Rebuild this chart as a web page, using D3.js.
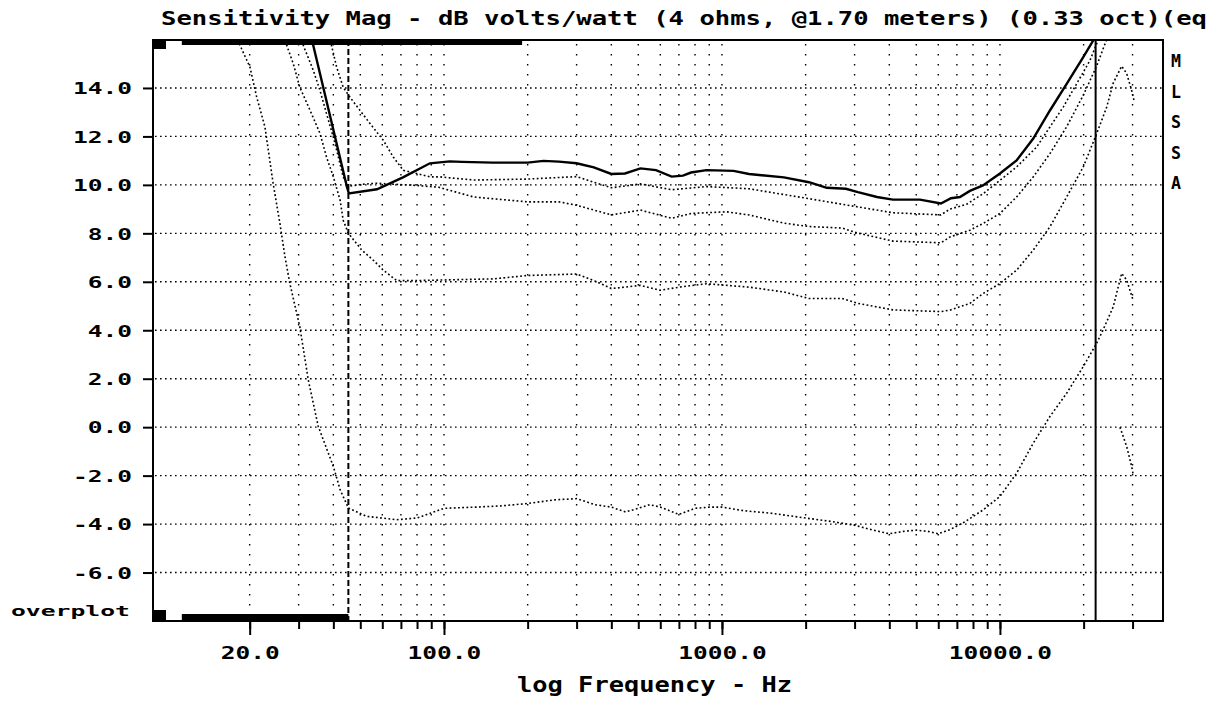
<!DOCTYPE html>
<html>
<head>
<meta charset="utf-8">
<script src="https://cdn.jsdelivr.net/npm/d3@7"></script>
<style>
  body { margin: 0; background: #fff; }
  svg { display: block; }
</style>
</head>
<body>
<svg id="chart"></svg>
<script>
// curves: [frequency Hz, level dB]
const curveM = [[33.0,16.3],[44.8,9.9],[45.5,9.65],[57.4,9.82],[71.2,10.31],[89,10.89],[105,10.97],[116,10.95],
  [150,10.92],[200,10.92],[228,10.99],[259,10.96],[300,10.89],[346,10.72],[400,10.45],[448,10.47],[509,10.68],
  [579,10.61],[659,10.34],[724,10.38],[774,10.51],[880,10.61],[1101,10.58],[1251,10.45],[1671,10.31],[2056,10.11],
  [2383,9.88],[2792,9.84],[3083,9.70],[3611,9.50],[4121,9.39],[5153,9.39],[6133,9.23],[6668,9.45],[7178,9.5],
  [7800,9.75],[8687,9.98],[10000,10.47],[11480,11.01],[13180,11.91],[15130,13.07],[17380,14.17],[19940,15.27],
  [21660,15.96],[22890,16.4]];

const curveL = [[38.5,16.3],[39.4,15.75],[41.1,14.86],[43.4,14.03],[45.9,13.62],[49.9,13.07],[54.2,12.53],
  [60.5,11.84],[65.7,11.15],[71.4,10.6],[79.8,10.47],[89,10.33],[96.7,10.33],[128,10.2],[200,10.24],[300,10.34],
  [346,10.11],[400,9.88],[509,10.04],[659,9.8],[880,9.93],[1251,9.84],[2056,9.43],[3083,9.09],[4121,8.85],
  [6133,8.76],[6608,9.0],[7591,9.2],[8710,9.64],[10000,10.19],[11480,10.74],[13550,11.56],[15130,12.39],
  [16890,13.21],[18870,14.17],[21070,15.13],[22600,16.0],[23200,16.4]];

const curveS1 = [[30.5,16.3],[31.2,15.75],[33.9,14.72],[35.8,13.9],[37.8,12.94],[40.0,11.97],[41.7,11.15],
  [43.4,10.33],[45.3,9.94],[50.6,10.02],[57.3,10.07],[67.6,10.02],[79,9.98],[95.8,9.9],[128,9.5],[200,9.3],
  [259,9.3],[300,9.16],[400,8.76],[509,8.96],[659,8.62],[774,8.82],[1034,8.89],[1251,8.76],[1671,8.42],
  [2056,8.28],[2702,8.22],[3083,8.01],[4121,7.68],[6133,7.61],[6608,7.85],[7800,8.13],[8710,8.41],[10000,8.82],
  [11480,9.5],[13180,10.33],[15130,11.29],[17380,12.4],[19940,13.7],[22270,14.9],[24200,16.0],[24870,16.4]];

const curveS2 = [[26.7,16.3],[27.2,15.75],[28.7,15.0],[30.3,14.03],[33.0,13.07],[35.8,12.13],[37.8,11.15],
  [40.0,10.33],[42.3,9.37],[43.4,8.54],[45.3,8.0],[50.6,7.31],[55.7,6.89],[60.5,6.48],[67.6,6.05],[79,6.05],
  [150,6.12],[200,6.26],[300,6.32],[346,6.05],[400,5.72],[509,5.85],[598,5.65],[704,5.78],[880,5.92],[1251,5.78],
  [1671,5.58],[2056,5.31],[2702,5.31],[3083,5.11],[4121,4.84],[6133,4.77],[6608,4.83],[7800,5.11],[8710,5.52],
  [10000,5.93],[11480,6.48],[13180,7.31],[15130,8.27],[17380,9.5],[19940,10.74],[22270,12.11],[24200,13.2],
  [25560,14.2],[27410,14.9],[28570,14.6],[29770,13.9],[30340,13.5]];

const curveA = [[17.6,16.3],[18.7,15.62],[20.05,14.86],[21.2,13.62],[22.7,12.39],[24.3,10.05],[25.7,8.4],
  [26.8,7.03],[27.9,5.93],[30.3,4.14],[32.5,1.95],[35.3,0.03],[40.0,-1.62],[42.3,-2.58],[45.3,-3.34],[52.7,-3.68],
  [67.6,-3.82],[80,-3.75],[100,-3.35],[130,-3.3],[160,-3.25],[200,-3.15],[250,-3.0],[300,-2.95],[350,-3.2],
  [400,-3.3],[450,-3.5],[500,-3.35],[550,-3.2],[600,-3.3],[700,-3.6],[800,-3.35],[900,-3.3],[1000,-3.3],
  [1200,-3.45],[1500,-3.55],[2000,-3.75],[2500,-3.9],[3000,-4.05],[3500,-4.25],[4000,-4.4],[4500,-4.3],
  [5000,-4.25],[5500,-4.3],[6000,-4.4],[6608,-4.23],[7500,-3.9],[8710,-3.41],[10000,-2.86],[11480,-1.9],
  [13180,-0.66],[15130,0.44],[17380,1.4],[19940,2.5],[22270,3.46],[23470,4.0],[25560,4.97],[27410,6.35],
  [28570,6.07],[30020,5.3]];

const curveTail = [[27020,0.0],[28570,-0.8],[29770,-1.62],[30200,-2.0]];

const yTicks = [-6, -4, -2, 0, 2, 4, 6, 8, 10, 12, 14];
const xLabelTicks = [20, 100, 1000, 10000];
const xGridTicks = [20, 30, 40, 50, 60, 70, 80, 90, 100, 200, 300, 400, 500, 600, 700, 800, 900,
  1000, 2000, 3000, 4000, 5000, 6000, 7000, 8000, 9000, 10000, 20000, 30000];
const legendLetters = ["M", "L", "S", "S", "A"];
const cursorLow = 45.3;     // dashed cursor, Hz
const cursorHigh = 22090;   // solid cursor, Hz
const topBar = [11.4, 191];
const bottomBar = [11.4, 45.3];

const titleText = "Sensitivity Mag - dB volts/watt (4 ohms, @1.70 meters) (0.33 oct)(eq";
const xTitle = "log Frequency - Hz";

const W = 1225, H = 702;
const plotL = 153, plotR = 1163, plotT = 39.5, plotB = 621;
const mono = "'DejaVu Sans Mono', 'Liberation Mono', monospace";

const svg = d3.select("#chart").attr("width", W).attr("height", H);

const x = d3.scaleLog().domain([8.98, 38600]).range([plotL, plotR]);
const y = d3.scaleLinear().domain([-8, 16]).range([plotB, plotT]);

// clip for curves
svg.append("defs").append("clipPath").attr("id", "plot")
  .append("rect").attr("x", plotL).attr("y", 40).attr("width", plotR - plotL).attr("height", plotB - 40);

// grid
let grid = svg.append("g");
grid.selectAll("line.h").data(yTicks).enter().append("line")
  .attr("x1", plotL + 2).attr("x2", plotR)
  .attr("y1", d => y(d)).attr("y2", d => y(d))
  .attr("stroke", "#000").attr("stroke-width", 1.4)
  .attr("stroke-dasharray", "1.6,3.4");
grid.selectAll("line.v").data(xGridTicks).enter().append("line")
  .attr("x1", d => x(d)).attr("x2", d => x(d))
  .attr("y1", 44).attr("y2", plotB)
  .attr("stroke", "#000").attr("stroke-width", 1.4)
  .attr("stroke-dasharray", "1.6,8.4");

// cursors
svg.append("line")
  .attr("x1", x(cursorLow)).attr("x2", x(cursorLow)).attr("y1", 40).attr("y2", plotB)
  .attr("stroke", "#000").attr("stroke-width", 2).attr("stroke-dasharray", "6,3");
svg.append("line")
  .attr("x1", x(cursorHigh)).attr("x2", x(cursorHigh)).attr("y1", 40).attr("y2", plotB)
  .attr("stroke", "#000").attr("stroke-width", 2);

// curves
const line = d3.line().x(d => x(d[0])).y(d => y(d[1]));
let curves = svg.append("g").attr("clip-path", "url(#plot)");
curves.append("path").datum(curveM).attr("d", line)
  .attr("fill", "none").attr("stroke", "#000").attr("stroke-width", 2.4);
for (const c of [curveL, curveS1, curveS2, curveA, curveTail]) {
  curves.append("path").datum(c).attr("d", line)
    .attr("fill", "none").attr("stroke", "#000").attr("stroke-width", 1.6)
    .attr("stroke-dasharray", "1.8,2.4");
}

// frame
svg.append("rect")
  .attr("x", plotL).attr("y", 40).attr("width", plotR - plotL).attr("height", plotB - 40)
  .attr("fill", "none").attr("stroke", "#000").attr("stroke-width", 2);

// scroll bars and corner blocks
svg.append("rect").attr("x", x(topBar[0])).attr("y", 39)
  .attr("width", x(topBar[1]) - x(topBar[0])).attr("height", 6).attr("fill", "#000");
svg.append("rect").attr("x", x(bottomBar[0])).attr("y", 614)
  .attr("width", x(bottomBar[1]) - x(bottomBar[0])).attr("height", 7).attr("fill", "#000");
svg.append("rect").attr("x", plotL).attr("y", 39).attr("width", 13).attr("height", 10).attr("fill", "#000");
svg.append("rect").attr("x", plotL).attr("y", 610).attr("width", 13).attr("height", 10).attr("fill", "#000");

// y axis
let yAxis = svg.append("g").attr("transform", `translate(${plotL},0)`)
  .call(d3.axisLeft(y).tickValues(yTicks).tickSize(10).tickPadding(11).tickFormat(d => d.toFixed(1)));
yAxis.select(".domain").remove();
yAxis.selectAll("line").attr("stroke-width", 2);
yAxis.selectAll("text")
  .attr("font-family", mono).attr("font-weight", "bold").attr("font-size", 16)
  .attr("dy", "0.36em")
  .attr("textLength", function () { return this.textContent.length * 14.75; })
  .attr("lengthAdjust", "spacingAndGlyphs");

// x axis: minor ticks then labelled ticks
let xMinor = svg.append("g").attr("transform", `translate(0,${plotB})`)
  .call(d3.axisBottom(x).tickValues(xGridTicks).tickSize(8).tickFormat(""));
xMinor.select(".domain").remove();
xMinor.selectAll("line").attr("stroke-width", 2);

let xAxis = svg.append("g").attr("transform", `translate(0,${plotB})`)
  .call(d3.axisBottom(x).tickValues(xLabelTicks).tickSize(14).tickFormat(d => d.toFixed(1)));
xAxis.select(".domain").remove();
xAxis.selectAll("line").attr("stroke-width", 2);
xAxis.selectAll("text")
  .attr("y", 38).attr("dy", null)
  .attr("font-family", mono).attr("font-weight", "bold").attr("font-size", 18)
  .attr("textLength", function () { return this.textContent.length * 14.75; })
  .attr("lengthAdjust", "spacingAndGlyphs");

// titles
svg.append("text")
  .attr("x", 161).attr("y", 25)
  .attr("font-family", mono).attr("font-weight", "bold").attr("font-size", 20)
  .attr("textLength", 1046).attr("lengthAdjust", "spacingAndGlyphs")
  .text(titleText);

svg.append("text")
  .attr("x", 517).attr("y", 692)
  .attr("font-family", mono).attr("font-weight", "bold").attr("font-size", 21)
  .attr("textLength", 275).attr("lengthAdjust", "spacingAndGlyphs")
  .text(xTitle);

svg.append("text")
  .attr("x", 11).attr("y", 616)
  .attr("font-family", mono).attr("font-weight", "bold").attr("font-size", 14)
  .attr("textLength", 119).attr("lengthAdjust", "spacingAndGlyphs")
  .text("overplot");

// legend letters
svg.selectAll("text.legend").data(legendLetters).enter().append("text")
  .attr("class", "legend")
  .attr("x", 1171).attr("y", (d, i) => 67 + i * 30.5)
  .attr("font-family", mono).attr("font-weight", "bold").attr("font-size", 18)
  .attr("textLength", 10).attr("lengthAdjust", "spacingAndGlyphs")
  .text(d => d);
</script>
</body>
</html>
